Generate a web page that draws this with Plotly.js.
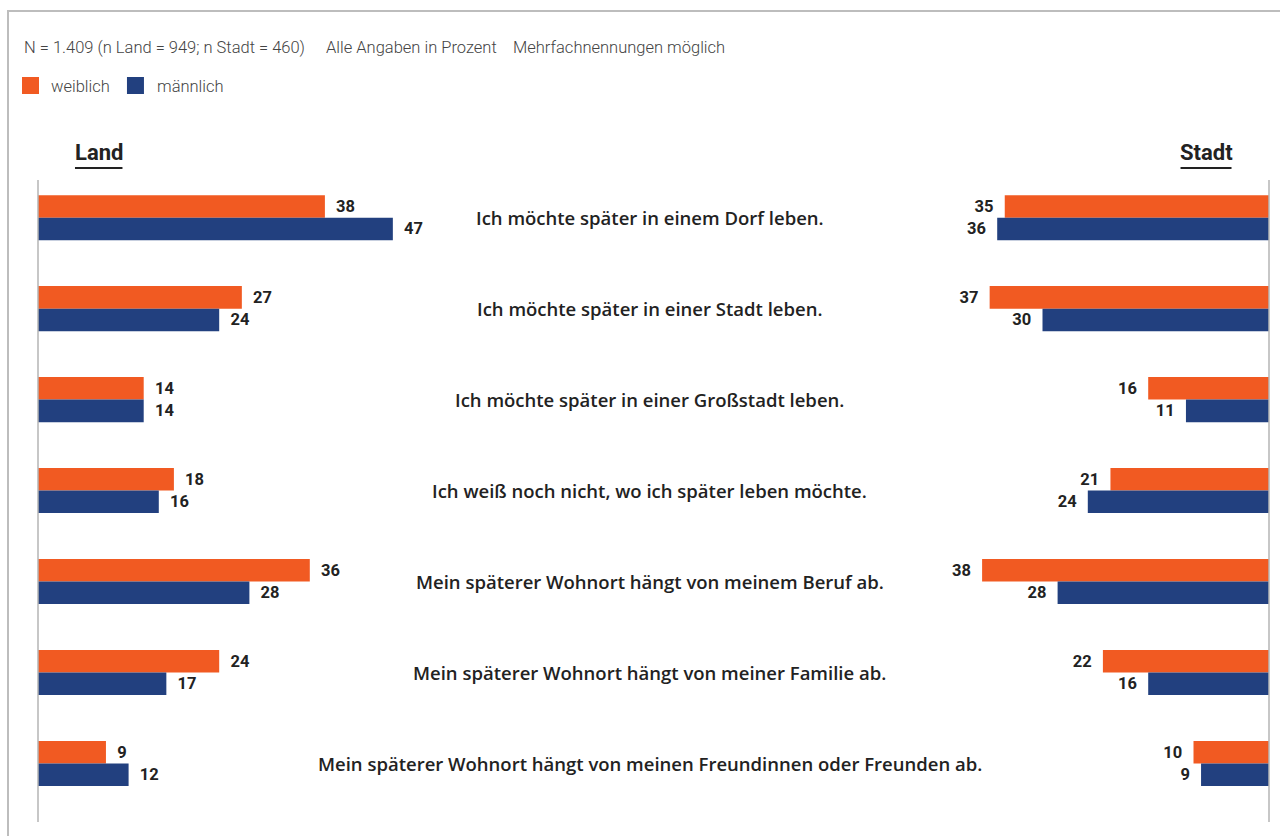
<!DOCTYPE html>
<html>
<head>
<meta charset="utf-8">
<script src="https://cdn.plot.ly/plotly-3.0.1.min.js"></script>
<style>
html,body{margin:0;padding:0;background:#fff;}
#frame{position:absolute;left:7px;top:10px;width:1280px;height:836px;border-top:2px solid #bdbdbd;border-left:2px solid #bdbdbd;box-sizing:border-box;}
#chart{position:absolute;left:0;top:0;width:1280px;height:836px;}
</style>
</head>
<body>
<div id="frame"></div>
<div id="chart"></div>
<script>
const categories = [
  "Ich möchte später in einem Dorf leben.",
  "Ich möchte später in einer Stadt leben.",
  "Ich möchte später in einer Großstadt leben.",
  "Ich weiß noch nicht, wo ich später leben möchte.",
  "Mein späterer Wohnort hängt von meinem Beruf ab.",
  "Mein späterer Wohnort hängt von meiner Familie ab.",
  "Mein späterer Wohnort hängt von meinen Freundinnen oder Freunden ab."
];
const landWeiblich  = [38, 27, 14, 18, 36, 24, 9];
const landMaennlich = [47, 24, 14, 16, 28, 17, 12];
const stadtWeiblich  = [35, 37, 16, 21, 38, 22, 10];
const stadtMaennlich = [36, 30, 11, 24, 28, 16, 9];
const seriesNames = ["weiblich", "männlich"];
const headerTexts = ["N = 1.409 (n Land = 949; n Stadt = 460)", "Alle Angaben in Prozent", "Mehrfachnennungen möglich"];
const sideTitles = ["Land", "Stadt"];

const ORANGE = "#F15A22", BLUE = "#22407F";
const COND = "'Roboto', 'Liberation Sans', sans-serif";
const L = 38, R = 1269.5, PW = R - L, T = 180, B = 822, PH = B - T;
const px = v => (v - L) / PW;
const py = v => (B - v) / PH;
const XMAX = PW / 7.553;

const valFont = {family: COND, size: 16.5, color: "#222", weight: 700};

function bar(x, name, color, axis, pos) {
  return {
    type: "bar", orientation: "h", y: categories, x: x, name: name,
    marker: {color: color}, xaxis: axis, yaxis: "y",
    text: x.map(v => pos === "l" ? "  " + v : v + "  "),
    textposition: "outside", textfont: valFont, cliponaxis: false,
    showlegend: false, hoverinfo: "x+name"
  };
}

const data = [
  bar(landWeiblich, seriesNames[0], ORANGE, "x", "l"),
  bar(landMaennlich, seriesNames[1], BLUE, "x", "l"),
  bar(stadtWeiblich, seriesNames[0], ORANGE, "x2", "r"),
  bar(stadtMaennlich, seriesNames[1], BLUE, "x2", "r")
];

const annotations = categories.map(c => ({
  xref: "paper", yref: "y", x: px(650), y: c, text: c, showarrow: false,
  xanchor: "center", yanchor: "middle",
  font: {family: "'Open Sans', sans-serif", size: 18.5, color: "#222", weight: 600}
}));
const hdrX = [22, 324, 511];
headerTexts.forEach((t, i) => annotations.push({
  xref: "paper", yref: "paper", x: px(hdrX[i]), y: py(48), text: t,
  showarrow: false, xanchor: "left", yanchor: "middle",
  font: {family: COND, size: 16.5, color: "#444", weight: 300}
}));
const legX = [49, 155];
seriesNames.forEach((n, i) => annotations.push({
  xref: "paper", yref: "paper", x: px(legX[i]), y: py(86), text: n,
  showarrow: false, xanchor: "left", yanchor: "middle",
  font: {family: COND, size: 16.5, color: "#444", weight: 300}
}));
annotations.push({xref: "paper", yref: "paper", x: px(99), y: py(153), text: sideTitles[0],
  showarrow: false, xanchor: "center", yanchor: "middle", font: {family: COND, size: 22, color: "#222", weight: 700}});
annotations.push({xref: "paper", yref: "paper", x: px(1206.5), y: py(153), text: sideTitles[1],
  showarrow: false, xanchor: "center", yanchor: "middle", font: {family: COND, size: 22, color: "#222", weight: 700}});

const legColors = [ORANGE, BLUE];
const legSq = [22, 127];
const shapes = [
  {type: "line", xref: "paper", yref: "paper", x0: 0, x1: 0, y0: 0, y1: 1, line: {color: "#b5b5b5", width: 1.5}},
  {type: "line", xref: "paper", yref: "paper", x0: 1, x1: 1, y0: 0, y1: 1, line: {color: "#b5b5b5", width: 1.5}},
  {type: "line", xref: "paper", yref: "paper", x0: px(75), x1: px(122.5), y0: py(168), y1: py(168), line: {color: "#222", width: 2}},
  {type: "line", xref: "paper", yref: "paper", x0: px(1181), x1: px(1232), y0: py(168), y1: py(168), line: {color: "#222", width: 2}}
];
legSq.forEach((x, i) => shapes.push({type: "rect", xref: "paper", yref: "paper",
  x0: px(x), x1: px(x + 17), y0: py(94), y1: py(77), line: {width: 0}, fillcolor: legColors[i]}));

const layout = {
  width: 1280, height: 836,
  margin: {l: L, r: 1280 - R, t: T, b: 836 - B, pad: 0},
  paper_bgcolor: "rgba(0,0,0,0)", plot_bgcolor: "rgba(0,0,0,0)",
  barmode: "group", bargap: 0.505, bargroupgap: 0,
  xaxis: {range: [0, XMAX], visible: false, fixedrange: true},
  xaxis2: {range: [XMAX, 0], visible: false, overlaying: "x", anchor: "y", fixedrange: true},
  yaxis: {type: "category", range: [6.643, -0.414], visible: false, fixedrange: true},
  annotations: annotations, shapes: shapes,
  showlegend: false
};

Plotly.newPlot("chart", data, layout, {displayModeBar: false});
</script>
</body>
</html>
